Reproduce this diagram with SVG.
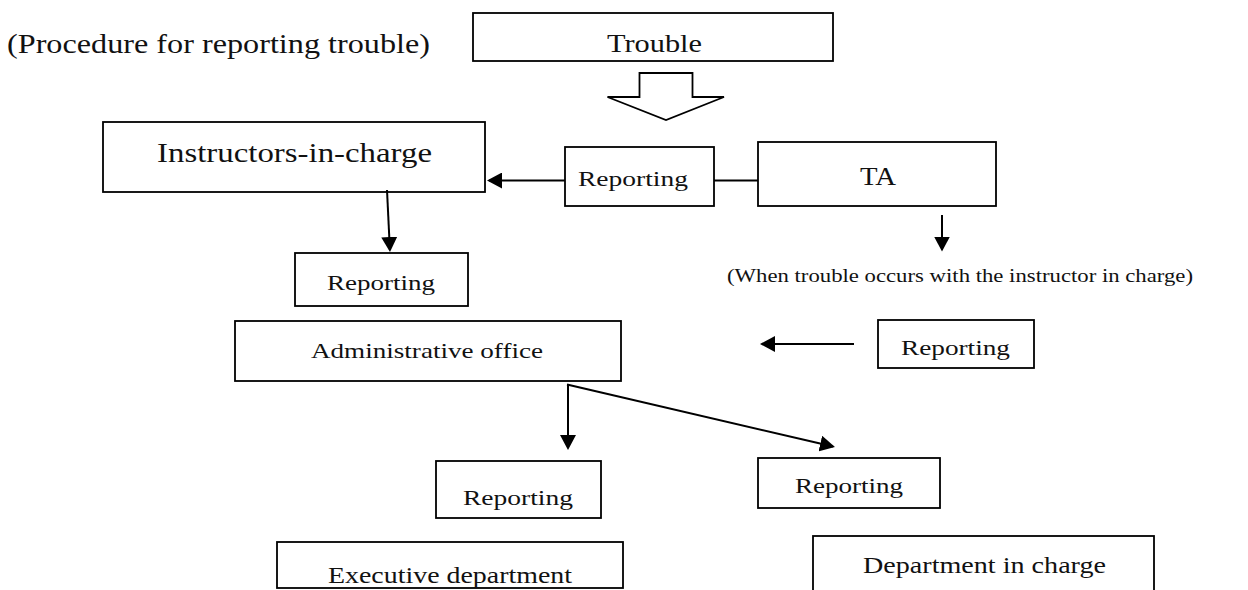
<svg xmlns="http://www.w3.org/2000/svg" width="1248" height="590" viewBox="0 0 1248 590">
  <style>
    .box { fill: #ffffff; stroke: #000000; stroke-width: 1.8; }
    .t { font-family: "Liberation Serif", "Times New Roman", serif; fill: #111111; }
    .conn { stroke: #000000; stroke-width: 2; fill: none; }
  </style>
  <defs>
    <marker id="ah" markerUnits="userSpaceOnUse" markerWidth="16" markerHeight="16" viewBox="0 0 16 16" refX="13" refY="8" orient="auto">
      <path d="M0,0 L15,8 L0,16 z" fill="#000000"/>
    </marker>
  </defs>
  <rect width="1248" height="590" fill="#ffffff"/>

  <text class="t" x="7" y="53" font-size="27" textLength="423" lengthAdjust="spacingAndGlyphs">(Procedure for reporting trouble)</text>

  <g id="trouble">
    <rect class="box" x="473" y="13" width="360" height="48"/>
    <text class="t" x="607" y="52" font-size="25" textLength="95" lengthAdjust="spacingAndGlyphs">Trouble</text>
  </g>

  <g id="instructors">
    <rect class="box" x="103" y="122" width="382" height="70"/>
    <text class="t" x="157" y="162" font-size="27" textLength="275" lengthAdjust="spacingAndGlyphs">Instructors-in-charge</text>
  </g>

  <g id="reporting-ta">
    <rect class="box" x="565" y="147" width="149" height="59"/>
    <text class="t" x="578" y="186" font-size="22" textLength="110" lengthAdjust="spacingAndGlyphs">Reporting</text>
  </g>

  <g id="ta">
    <rect class="box" x="758" y="142" width="238" height="64"/>
    <text class="t" x="860" y="185" font-size="25" textLength="36" lengthAdjust="spacingAndGlyphs">TA</text>
  </g>

  <g id="reporting-instructors">
    <rect class="box" x="295" y="253" width="173" height="53"/>
    <text class="t" x="327" y="290" font-size="22" textLength="108" lengthAdjust="spacingAndGlyphs">Reporting</text>
  </g>

  <g id="note">
    <text class="t" x="727" y="282" font-size="18" textLength="466" lengthAdjust="spacingAndGlyphs">(When trouble occurs with the instructor in charge)</text>
  </g>

  <g id="admin">
    <rect class="box" x="235" y="321" width="386" height="60"/>
    <text class="t" x="311" y="358" font-size="22" textLength="232" lengthAdjust="spacingAndGlyphs">Administrative office</text>
  </g>

  <g id="reporting-note">
    <rect class="box" x="878" y="320" width="156" height="48"/>
    <text class="t" x="901" y="355" font-size="22" textLength="109" lengthAdjust="spacingAndGlyphs">Reporting</text>
  </g>

  <g id="reporting-exec">
    <rect class="box" x="436" y="461" width="165" height="57"/>
    <text class="t" x="463" y="505" font-size="22" textLength="110" lengthAdjust="spacingAndGlyphs">Reporting</text>
  </g>

  <g id="reporting-dept">
    <rect class="box" x="758" y="458" width="182" height="50"/>
    <text class="t" x="795" y="493" font-size="22" textLength="108" lengthAdjust="spacingAndGlyphs">Reporting</text>
  </g>

  <g id="executive">
    <rect class="box" x="277" y="542" width="346" height="46"/>
    <text class="t" x="328" y="583" font-size="23" textLength="244" lengthAdjust="spacingAndGlyphs">Executive department</text>
  </g>

  <g id="department">
    <rect class="box" x="813" y="536" width="341" height="70"/>
    <text class="t" x="863" y="573" font-size="23" textLength="243" lengthAdjust="spacingAndGlyphs">Department in charge</text>
  </g>

  <g id="connectors">
    <polygon points="639.5,73 692.5,73 692.5,97 724,97 666,120 607.5,97 639.5,97" fill="#ffffff" stroke="#000000" stroke-width="1.8" stroke-linejoin="miter"/>
    <line class="conn" x1="565" y1="180.5" x2="489" y2="180.5" marker-end="url(#ah)"/>
    <line class="conn" x1="714" y1="180.5" x2="758" y2="180.5"/>
    <line class="conn" x1="387" y1="190" x2="389.9" y2="250" marker-end="url(#ah)"/>
    <line class="conn" x1="942" y1="215" x2="942" y2="249.5" marker-end="url(#ah)"/>
    <line class="conn" x1="854" y1="344" x2="762" y2="344" marker-end="url(#ah)"/>
    <line class="conn" x1="568" y1="384" x2="568" y2="448" marker-end="url(#ah)"/>
    <line class="conn" x1="567" y1="384.5" x2="833" y2="446.5" marker-end="url(#ah)"/>
  </g>
</svg>
